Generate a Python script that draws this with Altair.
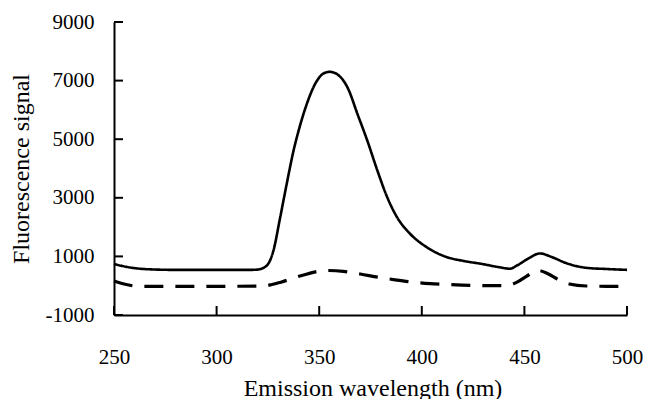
import altair as alt
import pandas as pd

# Sample (solid) spectrum
solid_wl = [250, 258, 267, 280, 300, 316, 320, 324.5, 327.7, 330.9, 334.1, 337.4, 340.6, 343.8,
            348.6, 352, 355.1, 359.1, 363.9, 368.7, 373.5, 378.4, 383.2, 388, 394.4, 402.5,
            412.2, 420, 429.5, 437, 443, 446.4, 452, 457.5, 463.3, 470, 480.2, 490, 500]
solid_val = [740, 620, 560, 540, 540, 540, 550, 690, 1200, 2300, 3450, 4580, 5450, 6170,
             6960, 7240, 7300, 7200, 6750, 5850, 4940, 3920, 3010, 2330, 1765, 1310,
             975, 850, 740, 640, 580, 690, 930, 1100, 980, 780, 610, 570, 540]

# Blank (dashed) spectrum
dash_wl = [250, 256, 262, 280, 300, 322.9, 327, 331.3, 341.5, 353.3, 361.8, 370, 378.7, 387,
           395.7, 404, 412.6, 425, 441.4, 446.4, 451, 456.6, 461.7, 466, 471.9, 480.2, 490, 500]
dash_val = [160, 40, -20, -20, -20, -10, 40, 120, 350, 520, 490, 400, 290, 200,
            120, 70, 40, 10, 0, 120, 320, 520, 400, 230, 60, -10, -20, -20]

x_ticks = [250, 300, 350, 400, 450, 500]
y_ticks = [-1000, 1000, 3000, 5000, 7000, 9000]

df = pd.concat([
    pd.DataFrame({"wl": solid_wl, "val": solid_val, "series": "sample"}),
    pd.DataFrame({"wl": dash_wl, "val": dash_val, "series": "blank"}),
])

W, H = 513, 293
FONT = "Liberation Serif, Times New Roman, DejaVu Serif, serif"

xscale = alt.Scale(domain=[250, 500], nice=False, zero=False)
yscale = alt.Scale(domain=[-1000, 9000], nice=False, zero=False)

lines = alt.Chart(df).mark_line(interpolate="monotone", color="black").encode(
    x=alt.X("wl:Q", scale=xscale,
            axis=alt.Axis(values=x_ticks, title="Emission wavelength (nm)", ticks=False, tickSize=0,
                          labelPadding=48, labelBaseline="alphabetic", labelFlush=False,
                          titleX=W / 2 + 2, titleY=80, titleBaseline="alphabetic", titleAlign="center",
                          domainWidth=2, domainColor="black", grid=False)),
    y=alt.Y("val:Q", scale=yscale,
            axis=alt.Axis(values=y_ticks, title="Fluorescence signal", ticks=False, tickSize=0,
                          labelPadding=20, labelFlush=False, labelExpr="'' + datum.value",
                          titleX=-93, titleY=H / 2, titleBaseline="middle", titleAlign="center",
                          titleAngle=270,
                          domainWidth=2, domainColor="black", grid=False)),
    detail="series:N",
    strokeDash=alt.StrokeDash("series:N", scale=alt.Scale(domain=["sample", "blank"],
                                                           range=[[1, 0], [19, 12]]), legend=None),
    strokeWidth=alt.StrokeWidth("series:N", scale=alt.Scale(domain=["sample", "blank"],
                                                             range=[2.6, 3.2]), legend=None),
)

xt = alt.Chart(pd.DataFrame({"t": x_ticks})).mark_rule(color="black", strokeWidth=2).encode(
    x=alt.X("t:Q", scale=xscale), y=alt.value(H), y2=alt.value(H - 9))
yt = alt.Chart(pd.DataFrame({"t": y_ticks})).mark_rule(color="black", strokeWidth=2).encode(
    y=alt.Y("t:Q", scale=yscale), x=alt.value(0), x2=alt.value(9))

chart = alt.layer(lines, xt, yt).properties(
    width=W, height=H,
    autosize=alt.AutoSizeParams(type="none"),
    padding={"left": 106, "top": 14, "right": 16, "bottom": 84},
).configure_view(stroke=None).configure_axis(
    labelFont=FONT, titleFont=FONT, labelFontSize=21, titleFontSize=24,
    labelColor="black", titleColor="black", titleFontWeight="normal",
)

chart.save("out.html", embed_options={"renderer": "svg", "actions": False})
